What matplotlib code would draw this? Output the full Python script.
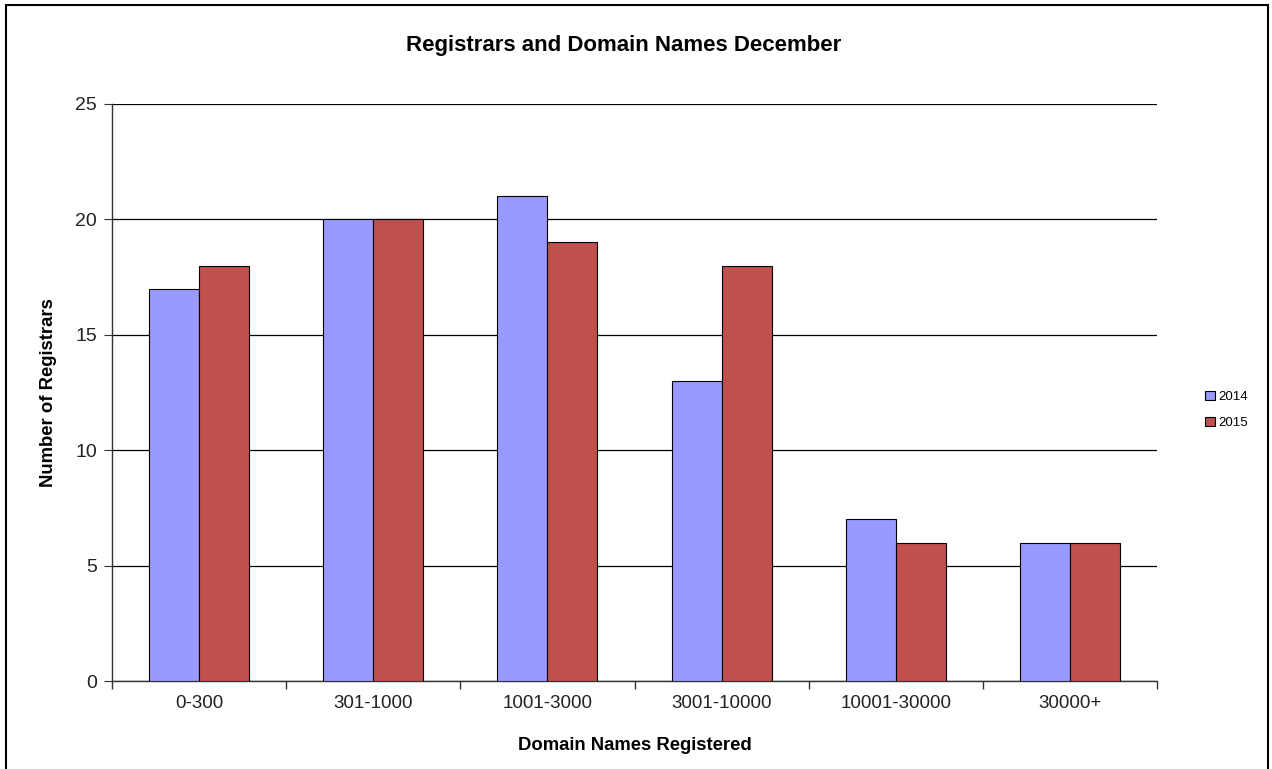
import numpy as np
import matplotlib.pyplot as plt
from matplotlib.patches import Rectangle

plt.rcParams['font.family'] = ['Liberation Sans', 'DejaVu Sans']

categories = ['0-300', '301-1000', '1001-3000', '3001-10000', '10001-30000', '30000+']
years = ['2014', '2015']
reg_2014 = [17, 20, 21, 13, 7, 6]
reg_2015 = [18, 20, 19, 18, 6, 6]

fig = plt.figure(figsize=(12.72, 7.69), dpi=100)
ax = fig.add_axes([0.0881, 0.1144, 0.8215, 0.7504])

x = np.arange(len(categories))
w = 0.287
ax.bar(x - w / 2, reg_2014, w, color='#9999FF', edgecolor='black', linewidth=0.8,
       label=years[0], zorder=3)
ax.bar(x + w / 2, reg_2015, w, color='#C0504D', edgecolor='black', linewidth=0.8,
       label=years[1], zorder=3)

ax.set_xlim(-0.5, len(categories) - 0.5)
ax.set_ylim(0, 25)
ax.set_yticks([0, 5, 10, 15, 20, 25])
ax.yaxis.grid(True, color='black', linewidth=0.9)
ax.set_axisbelow(True)

# category labels centred, tick marks on the category boundaries
ax.set_xticks(x)
ax.set_xticklabels(categories, fontsize=13.5, color='#222222')
ax.tick_params(axis='x', length=0, pad=10)
ax.set_xticks(np.arange(len(categories) + 1) - 0.5, minor=True)
ax.tick_params(axis='x', which='minor', length=6, width=1, color='#333333', direction='out')
ax.tick_params(axis='y', labelsize=14, labelcolor='#222222', length=6, color='#333333', pad=5)

for s in ['top', 'right']:
    ax.spines[s].set_visible(False)
for s in ['left', 'bottom']:
    ax.spines[s].set_color('#333333')
    ax.spines[s].set_linewidth(1)

ax.set_title('Registrars and Domain Names December', fontsize=16, fontweight='bold',
             pad=38, x=0.49)
ax.set_xlabel('Domain Names Registered', fontsize=13.3, fontweight='bold', labelpad=18)
ax.set_ylabel('Number of Registrars', fontsize=13.3, fontweight='bold', labelpad=13)

ax.legend(loc='center left', bbox_to_anchor=(1.035, 0.47), frameon=False, fontsize=9.5,
          handlelength=0.7, handleheight=0.7, handletextpad=0.3, labelspacing=1.05)

fig.patches.append(Rectangle((6 / 1272, -0.01), 1262 / 1272, 0.9935 + 0.01,
                             transform=fig.transFigure, fill=False,
                             edgecolor='black', linewidth=1.5))

fig.savefig('out.png', dpi=100)
